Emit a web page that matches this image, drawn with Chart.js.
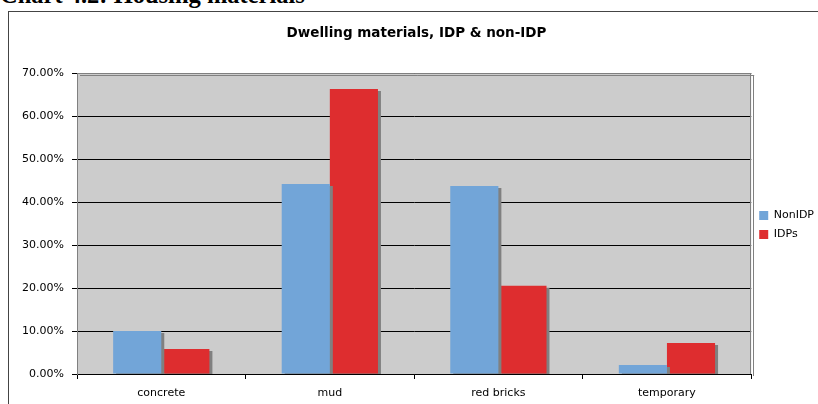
<!DOCTYPE html>
<html>
<head>
<meta charset="utf-8">
<script src="https://cdn.jsdelivr.net/npm/chart.js@4"></script>
<style>
  html, body { margin: 0; padding: 0; background: #fff; overflow: hidden; }
  #heading {
    position: absolute; left: 0; top: -17px;
    font: bold 24.5px "Liberation Serif", serif; line-height: 24px;
    color: #000; white-space: nowrap;
  }
  #frame {
    position: absolute; left: 8px; top: 11px;
    width: 840px; height: 420px;
    border: 1px solid #444; box-sizing: border-box;
  }
  #wrap { position: absolute; left: 0; top: 0; width: 815px; height: 392px; }
</style>
</head>
<body>
<div id="heading">Chart 4.2: Housing materials</div>
<div id="frame">
  <div id="wrap"><canvas id="dwellingChart"></canvas></div>
</div>
<script>
// values (percent)
const categories = ['concrete', 'mud', 'red bricks', 'temporary'];
const nonIdpValues = [10.0, 44.2, 43.7, 2.1];
const idpValues = [5.8, 66.3, 20.5, 7.2];
const yTicks = [0, 10, 20, 30, 40, 50, 60, 70];

// grey plot background + frame
const plotBackground = {
  id: 'plotBackground',
  beforeDraw(chart) {
    const { ctx, chartArea: a } = chart;
    ctx.save();
    ctx.fillStyle = '#cccccc';
    ctx.fillRect(a.left, a.top, a.right - a.left, a.bottom - a.top);
    ctx.restore();
  },
  afterDatasetsDraw(chart) {
    const { ctx, chartArea: a } = chart;
    ctx.save();
    ctx.strokeStyle = '#808080';
    ctx.lineWidth = 1;
    ctx.beginPath();
    ctx.moveTo(Math.round(a.right) - 0.5, a.top);
    ctx.lineTo(Math.round(a.right) - 0.5, a.bottom);
    ctx.moveTo(a.left, Math.round(a.top) + 0.5);
    ctx.lineTo(a.right, Math.round(a.top) + 0.5);
    ctx.stroke();
    ctx.restore();
  }
};

// excel-like drop shadow on bars
const barShadow = {
  id: 'barShadow',
  beforeDatasetsDraw(chart) {
    const ctx = chart.ctx;
    ctx.save();
    ctx.shadowColor = '#808080';
    ctx.shadowOffsetX = 3;
    ctx.shadowOffsetY = 2;
    ctx.shadowBlur = 0;
  },
  afterDatasetsDraw(chart) {
    chart.ctx.restore();
  }
};

const ctx = document.getElementById('dwellingChart').getContext('2d');
new Chart(ctx, {
  type: 'bar',
  data: {
    labels: categories,
    datasets: [
      {
        label: 'NonIDP',
        data: nonIdpValues,
        backgroundColor: '#72a5d8',
        categoryPercentage: 0.571,
        barPercentage: 1.0
      },
      {
        label: 'IDPs',
        data: idpValues,
        backgroundColor: '#de2d2f',
        categoryPercentage: 0.571,
        barPercentage: 1.0
      }
    ]
  },
  options: {
    responsive: true,
    maintainAspectRatio: false,
    animation: false,
    plugins: {
      title: {
        display: true,
        text: 'Dwelling materials, IDP & non-IDP',
        color: '#000',
        font: { family: 'DejaVu Sans', size: 13.5, weight: 'bold' },
        padding: { top: 13, bottom: 31.8 }
      },
      legend: {
        position: 'right',
        align: 'center',
        title: {
          display: true,
          text: ' ',
          font: { size: 10 },
          padding: { top: 11, bottom: 11 }
        },
        labels: {
          color: '#000',
          boxWidth: 9,
          boxHeight: 9,
          padding: 8,
          font: { family: 'DejaVu Sans', size: 11 }
        }
      },
      tooltip: { enabled: false }
    },
    scales: {
      x: {
        grid: {
          offset: true,
          drawOnChartArea: false,
          drawTicks: true,
          tickLength: 5,
          tickColor: '#000'
        },
        border: { display: true, color: '#000' },
        ticks: {
          color: '#000',
          padding: 8,
          font: { family: 'DejaVu Sans', size: 11 }
        },
        afterFit(scale) { scale.height = 30; }
      },
      y: {
        min: 0,
        max: 70,
        afterBuildTicks(scale) {
          scale.ticks = yTicks.map(v => ({ value: v }));
        },
        grid: {
          color: '#000',
          tickColor: '#000',
          tickLength: 5,
          drawTicks: true
        },
        border: { display: true, color: '#808080' },
        ticks: {
          color: '#000',
          padding: 8,
          font: { family: 'DejaVu Sans', size: 11 },
          callback: v => v.toFixed(2) + '%'
        },
        afterFit(scale) { scale.width = 68; }
      }
    }
  },
  plugins: [plotBackground, barShadow]
});
</script>
</body>
</html>
